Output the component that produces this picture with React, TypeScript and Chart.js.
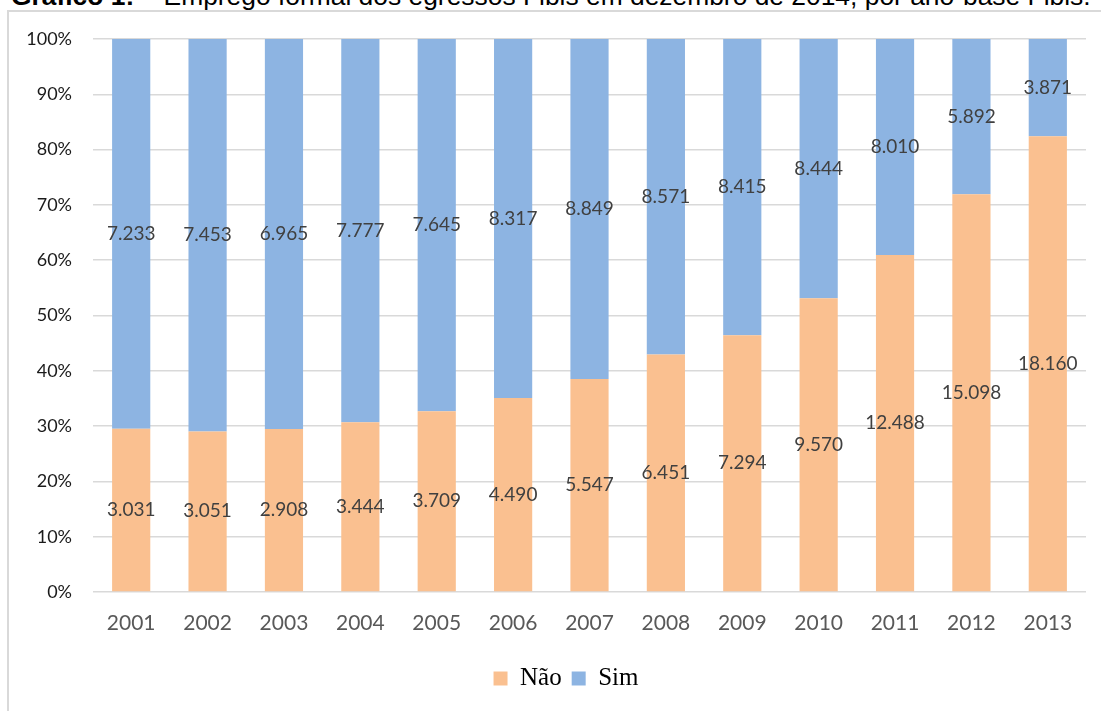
import React, { useEffect, useRef } from "react";
import { Chart, registerables } from "chart.js";

Chart.register(...registerables);

const years = ["2001", "2002", "2003", "2004", "2005", "2006", "2007", "2008", "2009", "2010", "2011", "2012", "2013"];
const naoCounts = [3031, 3051, 2908, 3444, 3709, 4490, 5547, 6451, 7294, 9570, 12488, 15098, 18160];
const simCounts = [7233, 7453, 6965, 7777, 7645, 8317, 8849, 8571, 8415, 8444, 8010, 5892, 3871];
const seriesNames = ["Não", "Sim"];
const titleBold = "Gráfico 1:";
const titleRest = " – Emprego formal dos egressos Fibis em dezembro de 2014, por ano-base Fibis.";

const NAO_COLOR = "#FAC090";
const SIM_COLOR = "#8DB4E2";

function fmt(n: number): string {
  return String(n).replace(/\B(?=(\d{3})+(?!\d))/g, ".");
}

const segLabels = {
  id: "segLabels",
  afterLayout(chart: any) {
    if (chart.legend) {
      chart.legend.left = 46;
    }
  },
  afterDatasetsDraw(chart: any) {
    const ctx = chart.ctx;
    const counts = [naoCounts, simCounts];
    ctx.save();
    ctx.font = "19px Lato";
    ctx.fillStyle = "#404040";
    ctx.textAlign = "center";
    ctx.textBaseline = "middle";
    chart.data.datasets.forEach((_ds: any, di: number) => {
      const meta = chart.getDatasetMeta(di);
      meta.data.forEach((bar: any, i: number) => {
        const p = bar.getProps(["x", "y", "base"], true);
        ctx.fillText(fmt(counts[di][i]), p.x, (p.y + p.base) / 2);
      });
    });
    ctx.restore();
  },
};

export default function App() {
  const ref = useRef<HTMLCanvasElement | null>(null);

  useEffect(() => {
    if (!ref.current) return;
    const totals = naoCounts.map((v, i) => v + simCounts[i]);
    const naoPct = naoCounts.map((v, i) => (v / totals[i]) * 100);
    const simPct = simCounts.map((v, i) => (v / totals[i]) * 100);
    const chart = new Chart(ref.current, {
      type: "bar",
      data: {
        labels: years,
        datasets: [
          { label: seriesNames[0], data: naoPct, backgroundColor: NAO_COLOR, barPercentage: 0.5, categoryPercentage: 1 },
          { label: seriesNames[1], data: simPct, backgroundColor: SIM_COLOR, barPercentage: 0.5, categoryPercentage: 1 },
        ],
      },
      options: {
        animation: false,
        responsive: false,
        layout: { padding: { left: 0, right: 15, top: 39, bottom: 10 } },
        scales: {
          x: {
            stacked: true,
            grid: { display: false, drawTicks: false },
            border: { display: false },
            ticks: { padding: 19, color: "#595959", font: { family: "Lato", size: 21 } },
            afterFit: (s: any) => { s.height = 64; },
          },
          y: {
            stacked: true,
            min: 0,
            max: 100,
            ticks: {
              stepSize: 10,
              padding: 21,
              color: "#1a1a1a",
              font: { family: "Lato", size: 18 },
              callback: (v: any) => v + "%",
            },
            grid: { color: "#d9d9d9", lineWidth: 1.5, drawTicks: false },
            border: { display: false },
            afterFit: (s: any) => { s.width = 93; },
          },
        },
        plugins: {
          legend: {
            position: "bottom",
            labels: {
              boxWidth: 14,
              boxHeight: 14,
              padding: 10,
              color: "#000",
              font: { family: "Liberation Serif", size: 25 },
            },
          },
          tooltip: { enabled: false },
        },
      },
      plugins: [segLabels],
    });
    return () => chart.destroy();
  }, []);

  return (
    <div style={{ position: "fixed", left: 0, top: 0, width: 1101, height: 711, overflow: "hidden", background: "#fff" }}>
      <div
        style={{
          position: "absolute",
          left: 11,
          top: -17,
          fontFamily: "'Liberation Sans', Arial, sans-serif",
          fontSize: 26.4,
          lineHeight: "26.4px",
          whiteSpace: "nowrap",
          color: "#000",
        }}
      >
        <b>{titleBold}</b>
        <span>{titleRest}</span>
      </div>
      <div
        style={{
          position: "absolute",
          left: 7,
          top: 10,
          width: 1110,
          height: 720,
          border: "2px solid #d9d9d9",
          boxSizing: "border-box",
        }}
      />
      <canvas ref={ref} width={1101} height={711} style={{ position: "absolute", left: 0, top: 0, display: "block" }} />
    </div>
  );
}
